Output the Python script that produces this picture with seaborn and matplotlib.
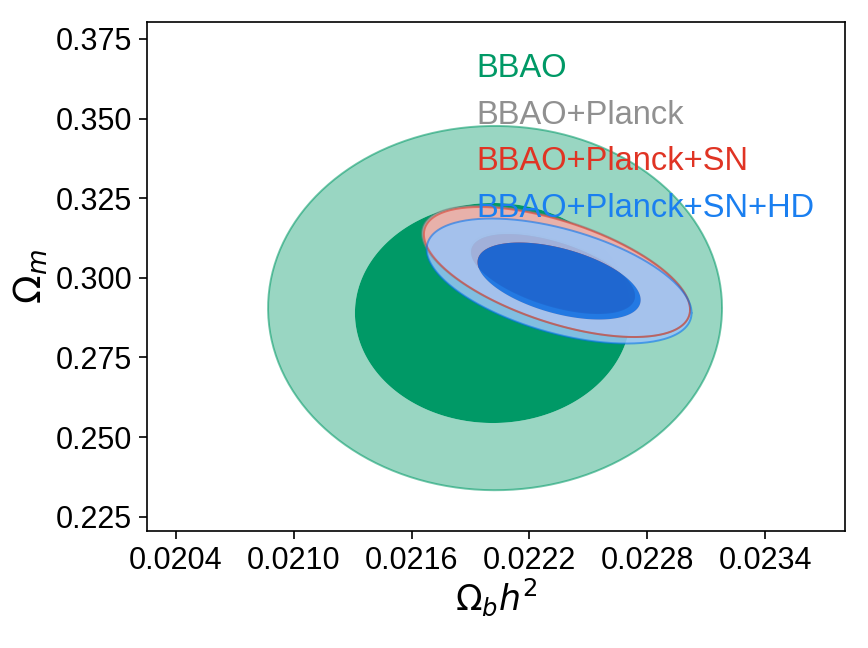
import numpy as np
import pandas as pd
import matplotlib
matplotlib.use("Agg")
import matplotlib.pyplot as plt
from matplotlib.path import Path
from matplotlib.patches import PathPatch
import seaborn as sns

# Contour ellipses: centre, half-extent in x / y, correlation
labels = ["BBAO", "BBAO+Planck", "BBAO+Planck+SN", "BBAO+Planck+SN+HD"]
colors = ["#009966", "gray", "#E03424", "#006FED"]
alphas = [1.0, 0.85, 0.85, 0.85]

# 95% contours
outer_cx = [0.022025, 0.022336, 0.022340, 0.022351]
outer_cy = [0.29050, 0.30200, 0.30182, 0.29899]
outer_ax = [0.001155, 0.000682, 0.000677, 0.000674]
outer_ay = [0.05720, 0.02060, 0.02041, 0.01963]
outer_rho = [0.0, -0.58, -0.58, -0.51]

# 68% contours
inner_cx = [0.022014, 0.022318, 0.022320, 0.022351]
inner_cy = [0.28895, 0.30170, 0.30119, 0.29899]
inner_ax = [0.000702, 0.000422, 0.000417, 0.000415]
inner_ay = [0.03455, 0.01270, 0.01256, 0.01209]
inner_rho = [0.0, -0.55, -0.55, -0.49]

x_ticks = [0.0204, 0.0210, 0.0216, 0.0222, 0.0228, 0.0234]
y_ticks = [0.225, 0.250, 0.275, 0.300, 0.325, 0.350, 0.375]


def ellipse(cx, cy, ax_, ay_, rho, n=300):
    t = np.linspace(0, 2 * np.pi, n)
    x = cx + ax_ * np.cos(t)
    y = cy + ay_ * (rho * np.cos(t) + np.sqrt(1 - rho ** 2) * np.sin(t))
    return x, y


def lighter(c, f=0.6):
    r, g, b = matplotlib.colors.to_rgb(c)
    return (r * (1 - f) + f, g * (1 - f) + f, b * (1 - f) + f)


sns.set_theme(style="ticks")
plt.rcParams["font.family"] = ["Liberation Sans", "DejaVu Sans"]
plt.rcParams["mathtext.fontset"] = "dejavusans"
for k in ["text.color", "axes.labelcolor", "xtick.color", "ytick.color"]:
    plt.rcParams[k] = "black"

fig = plt.figure(figsize=(8.68, 6.48), dpi=100)
ax = fig.add_axes([0.1697, 0.1806, 0.8041, 0.7859])

# filled contours: 95% band is a ring around the 68% region
for i in range(len(labels)):
    xo, yo = ellipse(outer_cx[i], outer_cy[i], outer_ax[i], outer_ay[i], outer_rho[i])
    xi, yi = ellipse(inner_cx[i], inner_cy[i], inner_ax[i], inner_ay[i], inner_rho[i])
    ring_v = np.concatenate([np.column_stack([xo, yo]), np.column_stack([xi[::-1], yi[::-1]])])
    codes = np.full(len(ring_v), Path.LINETO)
    codes[0] = Path.MOVETO
    codes[len(xo)] = Path.MOVETO
    ax.add_patch(PathPatch(Path(ring_v, codes), facecolor=lighter(colors[i]),
                           alpha=alphas[i], lw=0))
    ax.fill(xi, yi, color=colors[i], alpha=alphas[i], lw=0)

# outlines of the 95% contours
rows = []
for i in range(len(labels)):
    xo, yo = ellipse(outer_cx[i], outer_cy[i], outer_ax[i], outer_ay[i], outer_rho[i])
    rows.append(pd.DataFrame({"x": xo, "y": yo, "set": labels[i]}))
edges = pd.concat(rows, ignore_index=True)
sns.lineplot(data=edges, x="x", y="y", hue="set", hue_order=labels,
             palette=colors, units="set", estimator=None, sort=False,
             lw=1.4, alpha=0.55, legend=False, ax=ax)

ax.set_xlim(0.0202555, 0.023807)
ax.set_ylim(0.2205, 0.38043)
ax.set_xticks(x_ticks)
ax.set_xticklabels([f"{v:.4f}" for v in x_ticks])
ax.set_yticks(y_ticks)
ax.set_yticklabels([f"{v:.3f}" for v in y_ticks])
ax.tick_params(labelsize=22, length=6, width=1.2, color="black", pad=5)
for s in ax.spines.values():
    s.set_linewidth(1.2)
    s.set_color("black")

ax.set_xlabel(r"$\Omega_b h^2$", fontsize=25, labelpad=0)
ax.set_ylabel(r"$\Omega_m$", fontsize=27, labelpad=4)

# legend as coloured text
text_colors = ["#009966", "#909090", "#E03424", "#1a7ff0"]
for i, lab in enumerate(labels):
    ax.text(0.471, 0.8914 - 0.0914 * i, lab, color=text_colors[i], fontsize=23.5,
            transform=ax.transAxes, va="baseline", ha="left")

fig.savefig("out.png", dpi=100)
